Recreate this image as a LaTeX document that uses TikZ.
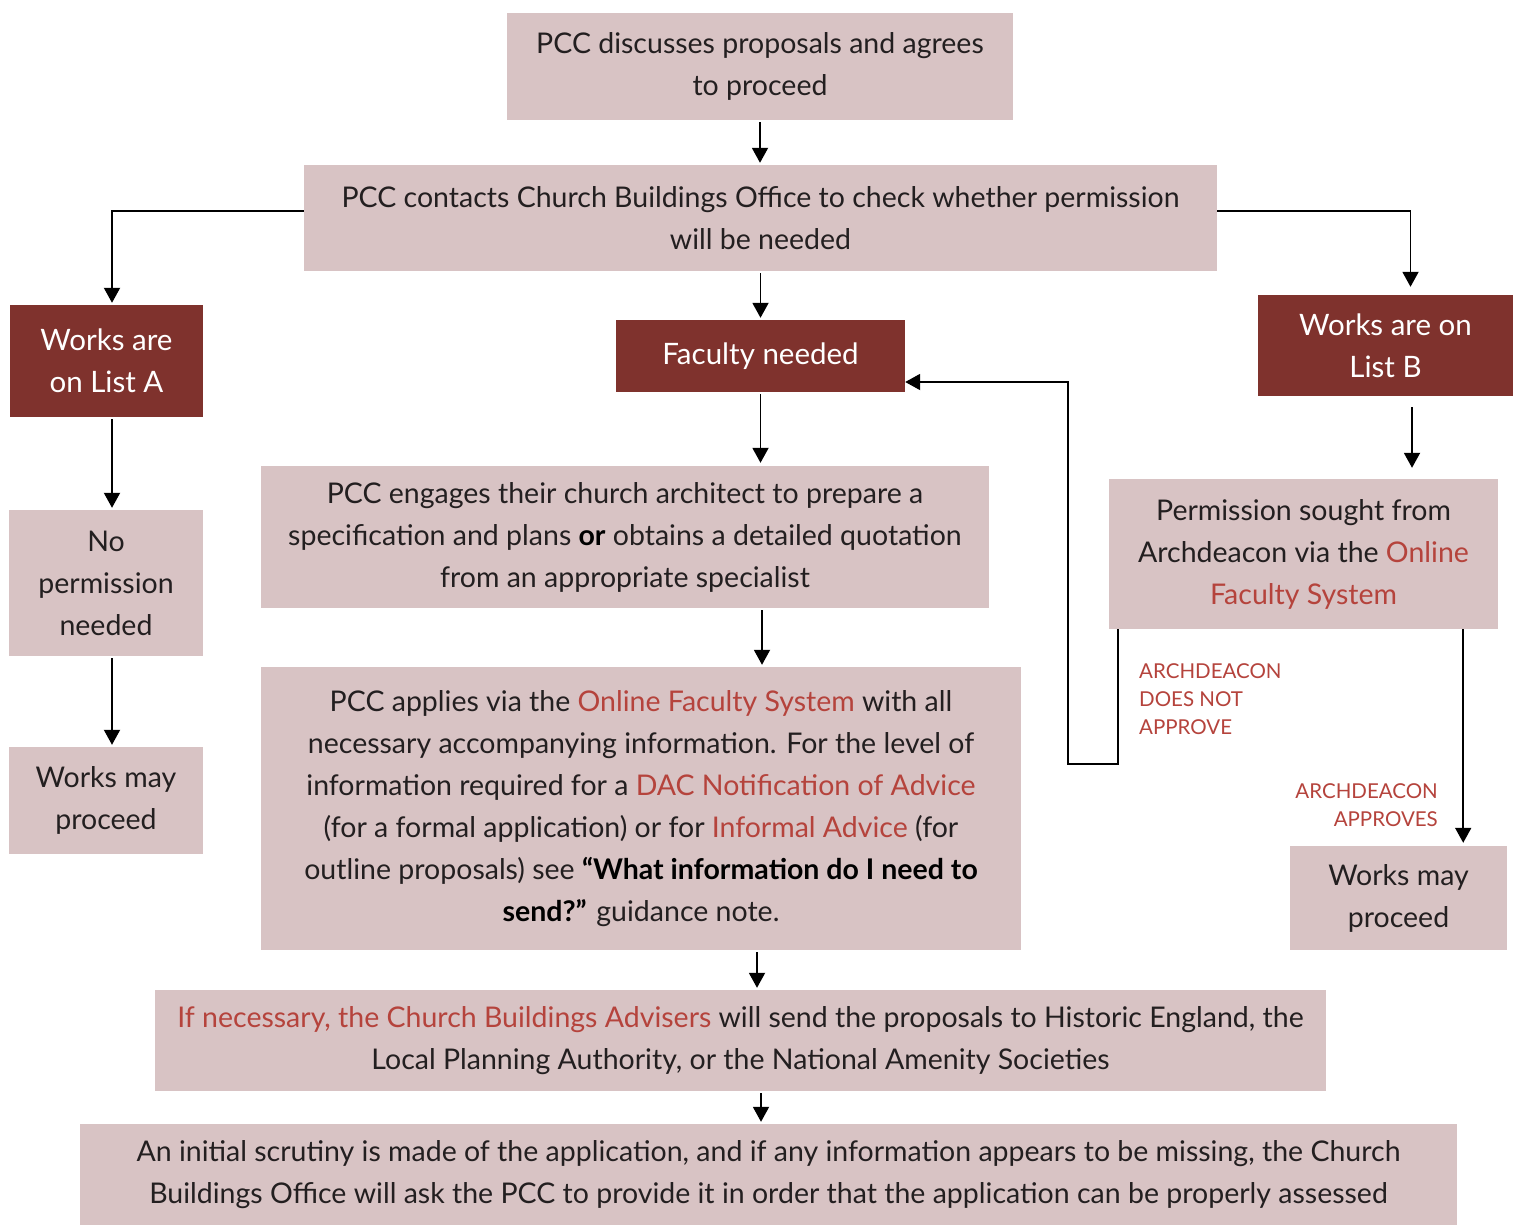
\documentclass[tikz,border=0pt]{standalone}
\usepackage{fontspec}
\setmainfont{Lato}
\usetikzlibrary{arrows.meta}
\definecolor{pinkc}{HTML}{D8C3C4}
\definecolor{darkc}{HTML}{7F322D}
\definecolor{redc}{HTML}{B5433C}
\definecolor{txtc}{HTML}{231F20}
\newcommand{\rt}[1]{\textcolor{redc}{#1}}
\newcommand{\bk}[1]{\textcolor{black}{\textbf{#1}}}
\tikzset{
 box/.style={fill=pinkc, text=txtc, align=center, inner sep=0pt, font=\fontsize{28.5}{42}\selectfont},
 dbox/.style={fill=darkc, text=white, align=center, inner sep=0pt, font=\fontsize{29.5}{42}\selectfont},
 arr/.style={draw=black, line width=1.9pt, -{Triangle[width=16pt,length=15pt]}},
 lbl/.style={text=redc, font=\fontsize{20.5}{28}\selectfont, inner sep=0pt},
}
\begin{document}
\begin{tikzpicture}[x=1pt,y=-1pt]
\useasboundingbox (0,0) rectangle (1517,1225);
\fill[white] (0,0) rectangle (1517,1225);

\node[box, minimum width=506pt, minimum height=107pt] (top) at (760,66.5) {PCC discusses proposals and agrees\\to proceed};
\node[box, minimum width=913pt, minimum height=106pt] (contact) at (760.5,218) {PCC contacts Church Buildings Office to check whether permission\\will be needed};
\node[dbox, minimum width=193pt, minimum height=112pt] (listA) at (106.5,361) {Works are\\on List A};
\node[dbox, minimum width=289pt, minimum height=72pt] (faculty) at (760.5,356) {Faculty needed};
\node[dbox, minimum width=255pt, minimum height=101pt] (listB) at (1385.5,345.5) {Works are on\\List B};
\node[box, minimum width=194pt, minimum height=146pt] (nop) at (106,583) {No\\permission\\needed};
\node[box, minimum width=194pt, minimum height=107pt] (mayL) at (106,800.5) {Works may\\proceed};
\node[box, minimum width=728pt, minimum height=142pt] (eng) at (625,537) {PCC engages their church architect to prepare a\\specification and plans \bk{or} obtains a detailed quotation\\from an appropriate specialist};
\node[box, minimum width=760pt, minimum height=283pt] (app) at (641,808.5) {PCC applies via the \rt{Online Faculty System} with all\\necessary accompanying information. For the level of\\information required for a \rt{DAC Notification of Advice}\\(for a formal application) or for \rt{Informal Advice} (for\\outline proposals) see \bk{“What information do I need to}\\\bk{send?”} guidance note.};
\node[box, minimum width=389pt, minimum height=150pt] (perm) at (1303.5,554) {Permission sought from\\Archdeacon via the \rt{Online}\\\rt{Faculty System}};
\node[box, minimum width=217pt, minimum height=104pt] (mayR) at (1398.5,898) {Works may\\proceed};
\node[box, minimum width=1171pt, minimum height=101pt] (nec) at (740.5,1040.5) {\rt{If necessary, the Church Buildings Advisers} will send the proposals to Historic England, the\\Local Planning Authority, or the National Amenity Societies};
\node[box, minimum width=1377pt, minimum height=101pt] (init) at (768.5,1174.5) {An initial scrutiny is made of the application, and if any information appears to be missing, the Church\\Buildings Office will ask the PCC to provide it in order that the application can be properly assessed};

\node[lbl, anchor=north west, align=left] (na) at (1139,663) {ARCHDEACON\\DOES NOT\\APPROVE};
\node[lbl, anchor=north east, align=right] (ap) at (1438,783) {ARCHDEACON\\APPROVES};

\coordinate (c1) at (1068,764);

\draw[arr, shorten <=2pt, shorten >=2pt] (top.south) -- (top.south |- contact.north);
\draw[arr, shorten >=2pt] ([yshift=7pt]contact.west) -| ([xshift=5.5pt]listA.north);
\draw[arr, shorten >=8pt] ([yshift=7pt]contact.east) -| ([xshift=25pt]listB.north);
\draw[arr, shorten <=2pt, shorten >=2pt] (contact.south) -- (contact.south |- faculty.north);
\draw[arr, shorten <=2pt, shorten >=2pt] ([xshift=5.5pt]listA.south) -- ([xshift=6pt]nop.north);
\draw[arr, shorten <=2pt, shorten >=2pt] ([xshift=6pt]nop.south) -- ([xshift=6pt]mayL.north);
\draw[arr, shorten <=2pt, shorten >=3pt] (faculty.south) -- (faculty.south |- eng.north);
\draw[arr, shorten <=2pt, shorten >=2pt] ([xshift=137pt]eng.south) -- ([xshift=137pt]eng.south |- app.north);
\draw[arr, shorten <=2pt, shorten >=2pt] ([xshift=116pt]app.south) -- ([xshift=116pt]app.south |- nec.north);
\draw[arr, shorten <=2pt, shorten >=2pt] ([xshift=20.5pt]nec.south) -- ([xshift=20.5pt]nec.south |- init.north);
\draw[arr, shorten <=11pt, shorten >=11pt] ([xshift=26.5pt]listB.south) -- ([xshift=26.5pt]listB.south |- perm.north);
\draw[arr, shorten >=3pt] ([xshift=-35pt]perm.south east) -- ([xshift=-35pt]perm.south east |- mayR.north);
\draw[arr] ([xshift=9pt]perm.south west) |- (c1) |- ([yshift=-26pt]faculty.east);
\end{tikzpicture}
\end{document}
